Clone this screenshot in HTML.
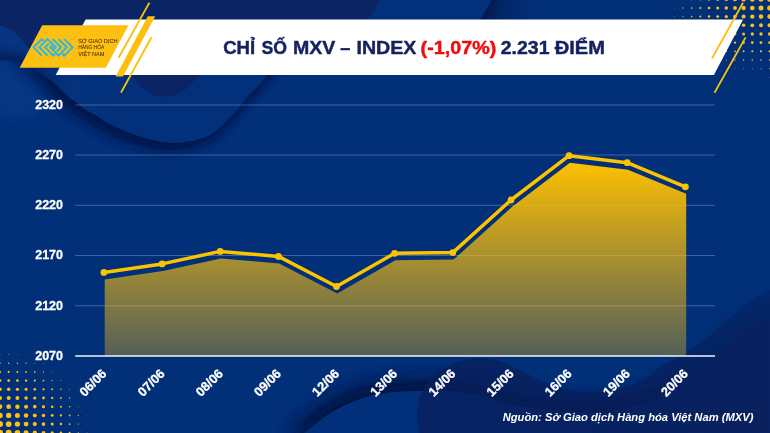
<!DOCTYPE html>
<html lang="vi"><head><meta charset="utf-8"><title>Chỉ số MXV-Index</title>
<style>
html,body{margin:0;padding:0;background:#012f78;}
body{width:770px;height:433px;overflow:hidden;}
svg{display:block;font-family:"Liberation Sans",sans-serif;}
</style></head><body>
<svg width="770" height="433" viewBox="0 0 770 433">
<defs>
<linearGradient id="ag" x1="0" y1="163" x2="0" y2="356" gradientUnits="userSpaceOnUse">
<stop offset="0" stop-color="#fcc000" stop-opacity="1"/>
<stop offset="1" stop-color="#f5bd18" stop-opacity="0.34"/>
</linearGradient>
<filter id="b6" filterUnits="userSpaceOnUse" x="-60" y="-60" width="890" height="553"><feGaussianBlur stdDeviation="7"/></filter>
<filter id="b5" filterUnits="userSpaceOnUse" x="-60" y="-60" width="890" height="553"><feGaussianBlur stdDeviation="5.5"/></filter>
<filter id="b9" filterUnits="userSpaceOnUse" x="-60" y="-60" width="890" height="553"><feGaussianBlur stdDeviation="8"/></filter>
<filter id="b10" filterUnits="userSpaceOnUse" x="-60" y="-60" width="890" height="553"><feGaussianBlur stdDeviation="10"/></filter>
<filter id="b3" filterUnits="userSpaceOnUse" x="-60" y="-60" width="890" height="553"><feGaussianBlur stdDeviation="4"/></filter>
<clipPath id="page"><rect width="770" height="433"/></clipPath>
</defs>
<rect width="770" height="433" fill="#012f78"/>
<g clip-path="url(#page)">
<ellipse cx="-10" cy="88" rx="55" ry="28" fill="#0a3d90" opacity="0.5" filter="url(#b6)" transform="rotate(28 0 92)"/>
<linearGradient id="mg1" x1="8" y1="0" x2="55" y2="0" gradientUnits="userSpaceOnUse"><stop offset="0" stop-color="#fff" stop-opacity="0"/><stop offset="1" stop-color="#fff" stop-opacity="1"/></linearGradient>
<mask id="m1" maskUnits="userSpaceOnUse" x="-20" y="-20" width="810" height="470"><rect x="-20" y="-20" width="810" height="470" fill="url(#mg1)"/></mask>
<linearGradient id="mg2" x1="25" y1="0" x2="70" y2="0" gradientUnits="userSpaceOnUse"><stop offset="0" stop-color="#fff" stop-opacity="1"/><stop offset="1" stop-color="#fff" stop-opacity="0"/></linearGradient>
<mask id="m2" maskUnits="userSpaceOnUse" x="-20" y="-20" width="810" height="470"><rect x="-20" y="-20" width="810" height="470" fill="url(#mg2)"/></mask>
<linearGradient id="og" x1="0" y1="0" x2="120" y2="0" gradientUnits="userSpaceOnUse"><stop offset="0" stop-color="#073581"/><stop offset="1" stop-color="#02307a"/></linearGradient>
<clipPath id="oc"><path d="M-10.0,58.5 C-8.3,58.8 -3.8,59.5 0.0,60.0 C3.8,60.5 9.0,60.9 12.5,61.5 C16.0,62.1 18.1,62.6 21.0,63.5 C23.9,64.4 26.6,65.2 30.0,67.0 C33.4,68.8 38.2,71.8 41.5,74.0 C44.8,76.2 47.2,77.9 50.0,80.0 C52.8,82.1 55.2,83.9 58.0,86.5 C60.8,89.1 63.6,92.6 67.0,95.5 C70.4,98.4 75.5,101.7 78.5,104.0 C81.5,106.3 81.9,107.5 85.0,109.5 C88.1,111.5 93.8,114.1 97.0,116.0 C100.2,117.9 100.9,119.2 104.0,121.0 C107.1,122.8 110.4,124.8 115.4,127.0 C120.4,129.2 127.9,132.3 134.0,134.5 C140.1,136.7 145.8,138.6 152.0,140.0 C158.2,141.4 164.8,142.7 171.0,143.0 C177.2,143.3 184.2,142.3 189.0,141.6 C193.8,140.9 195.7,140.4 200.0,138.8 C204.3,137.2 209.2,136.5 215.0,132.0 C220.8,127.5 229.5,118.0 235.0,112.0 C240.5,106.0 243.7,100.8 248.0,96.0 C252.3,91.2 256.5,88.0 261.0,83.0 C265.5,78.0 268.5,71.5 275.0,66.0 C281.5,60.5 279.2,54.3 300.0,50.0 C320.8,45.7 373.3,43.0 400.0,40.0 C426.7,37.0 446.8,35.3 460.0,32.0 C473.2,28.7 473.7,25.3 479.0,20.0 C484.3,14.7 489.2,5.0 492.0,0.0 C494.8,-5.0 495.3,-8.3 496.0,-10.0 L-10,-10 Z"/></clipPath>
<g mask="url(#m1)"><path d="M-10.0,58.5 C-8.3,58.8 -3.8,59.5 0.0,60.0 C3.8,60.5 9.0,60.9 12.5,61.5 C16.0,62.1 18.1,62.6 21.0,63.5 C23.9,64.4 26.6,65.2 30.0,67.0 C33.4,68.8 38.2,71.8 41.5,74.0 C44.8,76.2 47.2,77.9 50.0,80.0 C52.8,82.1 55.2,83.9 58.0,86.5 C60.8,89.1 63.6,92.6 67.0,95.5 C70.4,98.4 75.5,101.7 78.5,104.0 C81.5,106.3 81.9,107.5 85.0,109.5 C88.1,111.5 93.8,114.1 97.0,116.0 C100.2,117.9 100.9,119.2 104.0,121.0 C107.1,122.8 110.4,124.8 115.4,127.0 C120.4,129.2 127.9,132.3 134.0,134.5 C140.1,136.7 145.8,138.6 152.0,140.0 C158.2,141.4 164.8,142.7 171.0,143.0 C177.2,143.3 184.2,142.3 189.0,141.6 C193.8,140.9 195.7,140.4 200.0,138.8 C204.3,137.2 209.2,136.5 215.0,132.0 C220.8,127.5 229.5,118.0 235.0,112.0 C240.5,106.0 243.7,100.8 248.0,96.0 C252.3,91.2 256.5,88.0 261.0,83.0 C265.5,78.0 268.5,71.5 275.0,66.0 C281.5,60.5 279.2,54.3 300.0,50.0 C320.8,45.7 373.3,43.0 400.0,40.0 C426.7,37.0 446.8,35.3 460.0,32.0 C473.2,28.7 473.7,25.3 479.0,20.0 C484.3,14.7 489.2,5.0 492.0,0.0 C494.8,-5.0 495.3,-8.3 496.0,-10.0 L-10,-10 Z" fill="#03184a" opacity="0.9" filter="url(#b5)" transform="translate(-7,8)"/></g>
<g mask="url(#m1)"><path d="M-10.0,58.5 C-8.3,58.8 -3.8,59.5 0.0,60.0 C3.8,60.5 9.0,60.9 12.5,61.5 C16.0,62.1 18.1,62.6 21.0,63.5 C23.9,64.4 26.6,65.2 30.0,67.0 C33.4,68.8 38.2,71.8 41.5,74.0 C44.8,76.2 47.2,77.9 50.0,80.0 C52.8,82.1 55.2,83.9 58.0,86.5 C60.8,89.1 63.6,92.6 67.0,95.5 C70.4,98.4 75.5,101.7 78.5,104.0 C81.5,106.3 81.9,107.5 85.0,109.5 C88.1,111.5 93.8,114.1 97.0,116.0 C100.2,117.9 100.9,119.2 104.0,121.0 C107.1,122.8 110.4,124.8 115.4,127.0 C120.4,129.2 127.9,132.3 134.0,134.5 C140.1,136.7 145.8,138.6 152.0,140.0 C158.2,141.4 164.8,142.7 171.0,143.0 C177.2,143.3 184.2,142.3 189.0,141.6 C193.8,140.9 195.7,140.4 200.0,138.8 C204.3,137.2 209.2,136.5 215.0,132.0 C220.8,127.5 229.5,118.0 235.0,112.0 C240.5,106.0 243.7,100.8 248.0,96.0 C252.3,91.2 256.5,88.0 261.0,83.0 C265.5,78.0 268.5,71.5 275.0,66.0 C281.5,60.5 279.2,54.3 300.0,50.0 C320.8,45.7 373.3,43.0 400.0,40.0 C426.7,37.0 446.8,35.3 460.0,32.0 C473.2,28.7 473.7,25.3 479.0,20.0 C484.3,14.7 489.2,5.0 492.0,0.0 C494.8,-5.0 495.3,-8.3 496.0,-10.0 L-10,-10 Z" fill="#03184a" opacity="0.7" filter="url(#b3)" transform="translate(3,2)"/></g>
<path d="M-10.0,58.5 C-8.3,58.8 -3.8,59.5 0.0,60.0 C3.8,60.5 9.0,60.9 12.5,61.5 C16.0,62.1 18.1,62.6 21.0,63.5 C23.9,64.4 26.6,65.2 30.0,67.0 C33.4,68.8 38.2,71.8 41.5,74.0 C44.8,76.2 47.2,77.9 50.0,80.0 C52.8,82.1 55.2,83.9 58.0,86.5 C60.8,89.1 63.6,92.6 67.0,95.5 C70.4,98.4 75.5,101.7 78.5,104.0 C81.5,106.3 81.9,107.5 85.0,109.5 C88.1,111.5 93.8,114.1 97.0,116.0 C100.2,117.9 100.9,119.2 104.0,121.0 C107.1,122.8 110.4,124.8 115.4,127.0 C120.4,129.2 127.9,132.3 134.0,134.5 C140.1,136.7 145.8,138.6 152.0,140.0 C158.2,141.4 164.8,142.7 171.0,143.0 C177.2,143.3 184.2,142.3 189.0,141.6 C193.8,140.9 195.7,140.4 200.0,138.8 C204.3,137.2 209.2,136.5 215.0,132.0 C220.8,127.5 229.5,118.0 235.0,112.0 C240.5,106.0 243.7,100.8 248.0,96.0 C252.3,91.2 256.5,88.0 261.0,83.0 C265.5,78.0 268.5,71.5 275.0,66.0 C281.5,60.5 279.2,54.3 300.0,50.0 C320.8,45.7 373.3,43.0 400.0,40.0 C426.7,37.0 446.8,35.3 460.0,32.0 C473.2,28.7 473.7,25.3 479.0,20.0 C484.3,14.7 489.2,5.0 492.0,0.0 C494.8,-5.0 495.3,-8.3 496.0,-10.0 L-10,-10 Z" fill="url(#og)"/>
<g clip-path="url(#oc)"><g mask="url(#m2)"><path d="M-10.0,58.5 C-8.3,58.8 -3.8,59.5 0.0,60.0 C3.8,60.5 9.0,60.9 12.5,61.5 C16.0,62.1 18.1,62.6 21.0,63.5 C23.9,64.4 26.6,65.2 30.0,67.0 C33.4,68.8 38.2,71.8 41.5,74.0 C44.8,76.2 47.2,77.9 50.0,80.0 C52.8,82.1 55.2,83.9 58.0,86.5 C60.8,89.1 63.6,92.6 67.0,95.5 C70.4,98.4 75.5,101.7 78.5,104.0 C81.5,106.3 81.9,107.5 85.0,109.5 C88.1,111.5 95.0,114.9 97.0,116.0" fill="none" stroke="#041c50" stroke-width="16" opacity="0.8" filter="url(#b3)"/></g></g>
<linearGradient id="tg" x1="486" y1="0" x2="535" y2="0" gradientUnits="userSpaceOnUse"><stop offset="0" stop-color="#03184a" stop-opacity="0.6"/><stop offset="1" stop-color="#03184a" stop-opacity="0"/></linearGradient>
<polygon points="492,-1 545,-1 532,21 479,21" fill="url(#tg)"/>
<path d="M-10.0,22.0 C-8.3,22.6 -3.8,24.1 0.0,25.5 C3.8,26.9 8.7,27.8 12.5,30.4 C16.3,33.0 19.9,37.7 23.0,41.0 C26.1,44.3 27.3,46.8 31.0,50.0 C34.7,53.2 38.5,57.0 45.0,60.0 C51.5,63.0 60.8,67.0 70.0,68.0 C79.2,69.0 90.8,65.7 100.0,66.0 C109.2,66.3 119.5,68.3 125.0,70.0 C130.5,71.7 130.2,73.0 133.0,76.0 C135.8,79.0 138.8,85.0 142.0,88.0 C145.2,91.0 148.7,92.6 152.0,94.0 C155.3,95.4 158.2,96.3 162.0,96.5 C165.8,96.7 171.0,96.2 175.0,95.0 C179.0,93.8 182.8,91.3 186.0,89.0 C189.2,86.7 191.8,83.2 194.0,81.0 C196.2,78.8 195.5,80.3 199.0,76.0 C202.5,71.7 198.2,61.8 215.0,55.0 C231.8,48.2 277.5,39.2 300.0,35.0 C322.5,30.8 338.8,32.5 350.0,30.0 C361.2,27.5 362.0,25.0 367.0,20.0 C372.0,15.0 377.2,5.0 380.0,0.0 C382.8,-5.0 383.3,-8.3 384.0,-10.0 L-10,-10 Z" fill="#0a2464"/>
<linearGradient id="a1g" x1="585" y1="0" x2="720" y2="0" gradientUnits="userSpaceOnUse"><stop offset="0" stop-color="#022f7a"/><stop offset="1" stop-color="#0a2464"/></linearGradient>
<linearGradient id="mg3" x1="610" y1="0" x2="720" y2="0" gradientUnits="userSpaceOnUse"><stop offset="0" stop-color="#fff" stop-opacity="1"/><stop offset="1" stop-color="#fff" stop-opacity="0.2"/></linearGradient>
<mask id="m3" maskUnits="userSpaceOnUse" x="-20" y="-20" width="810" height="470"><rect x="-20" y="-20" width="810" height="470" fill="url(#mg3)"/></mask>
<g mask="url(#m3)"><path d="M296.0,440.0 C297.4,438.8 299.5,437.0 304.5,433.0 C309.5,429.0 319.3,420.6 326.0,416.0 C332.7,411.4 338.3,408.5 344.5,405.5 C350.7,402.5 356.9,400.0 363.0,398.0 C369.1,396.0 375.0,394.6 381.0,393.6 C387.0,392.6 393.0,392.2 399.0,391.8 C405.0,391.4 410.5,391.2 417.0,391.0 C423.5,390.8 431.2,390.2 438.0,390.3 C444.8,390.4 451.1,390.7 457.5,391.5 C463.9,392.3 470.3,393.6 476.7,395.0 C483.1,396.4 488.8,398.2 496.0,400.0 C503.2,401.8 512.7,404.5 520.0,406.0 C527.3,407.5 532.5,408.2 540.0,409.0 C547.5,409.8 555.7,410.6 565.0,411.0 C574.3,411.4 585.7,412.0 596.0,411.5 C606.3,411.0 616.7,410.2 627.0,408.0 C637.3,405.8 649.2,401.8 658.0,398.0 C666.8,394.2 673.8,388.8 680.0,385.0 C686.2,381.2 689.3,379.9 695.0,375.5 C700.7,371.1 707.7,364.6 714.0,358.6 C720.3,352.6 726.7,345.1 733.0,339.7 C739.3,334.3 745.8,329.9 752.0,326.5 C758.2,323.1 763.7,321.4 770.0,319.0 C776.3,316.6 786.7,313.2 790.0,312.0 L790,445 L296,445 Z" fill="#021545" opacity="0.95" filter="url(#b9)" transform="translate(-5,-12)"/>
<path d="M296.0,440.0 C297.4,438.8 299.5,437.0 304.5,433.0 C309.5,429.0 319.3,420.6 326.0,416.0 C332.7,411.4 338.3,408.5 344.5,405.5 C350.7,402.5 356.9,400.0 363.0,398.0 C369.1,396.0 375.0,394.6 381.0,393.6 C387.0,392.6 393.0,392.2 399.0,391.8 C405.0,391.4 410.5,391.2 417.0,391.0 C423.5,390.8 431.2,390.2 438.0,390.3 C444.8,390.4 451.1,390.7 457.5,391.5 C463.9,392.3 470.3,393.6 476.7,395.0 C483.1,396.4 488.8,398.2 496.0,400.0 C503.2,401.8 512.7,404.5 520.0,406.0 C527.3,407.5 532.5,408.2 540.0,409.0 C547.5,409.8 555.7,410.6 565.0,411.0 C574.3,411.4 585.7,412.0 596.0,411.5 C606.3,411.0 616.7,410.2 627.0,408.0 C637.3,405.8 649.2,401.8 658.0,398.0 C666.8,394.2 673.8,388.8 680.0,385.0 C686.2,381.2 689.3,379.9 695.0,375.5 C700.7,371.1 707.7,364.6 714.0,358.6 C720.3,352.6 726.7,345.1 733.0,339.7 C739.3,334.3 745.8,329.9 752.0,326.5 C758.2,323.1 763.7,321.4 770.0,319.0 C776.3,316.6 786.7,313.2 790.0,312.0 L790,445 L296,445 Z" fill="#021545" opacity="0.7" filter="url(#b3)" transform="translate(-1.5,-3)"/></g>
<path d="M296.0,440.0 C297.4,438.8 299.5,437.0 304.5,433.0 C309.5,429.0 319.3,420.6 326.0,416.0 C332.7,411.4 338.3,408.5 344.5,405.5 C350.7,402.5 356.9,400.0 363.0,398.0 C369.1,396.0 375.0,394.6 381.0,393.6 C387.0,392.6 393.0,392.2 399.0,391.8 C405.0,391.4 410.5,391.2 417.0,391.0 C423.5,390.8 431.2,390.2 438.0,390.3 C444.8,390.4 451.1,390.7 457.5,391.5 C463.9,392.3 470.3,393.6 476.7,395.0 C483.1,396.4 488.8,398.2 496.0,400.0 C503.2,401.8 512.7,404.5 520.0,406.0 C527.3,407.5 532.5,408.2 540.0,409.0 C547.5,409.8 555.7,410.6 565.0,411.0 C574.3,411.4 585.7,412.0 596.0,411.5 C606.3,411.0 616.7,410.2 627.0,408.0 C637.3,405.8 649.2,401.8 658.0,398.0 C666.8,394.2 673.8,388.8 680.0,385.0 C686.2,381.2 689.3,379.9 695.0,375.5 C700.7,371.1 707.7,364.6 714.0,358.6 C720.3,352.6 726.7,345.1 733.0,339.7 C739.3,334.3 745.8,329.9 752.0,326.5 C758.2,323.1 763.7,321.4 770.0,319.0 C776.3,316.6 786.7,313.2 790.0,312.0 L790,445 L296,445 Z" fill="url(#a1g)"/>
<linearGradient id="b2g" x1="620" y1="0" x2="770" y2="0" gradientUnits="userSpaceOnUse"><stop offset="0" stop-color="#081e5a" stop-opacity="0.74"/><stop offset="1" stop-color="#081e5a" stop-opacity="0.45"/></linearGradient>
<path d="M419.0,445.0 C419.0,443.0 419.3,438.0 419.0,433.0 C418.7,428.0 417.0,420.5 417.0,415.0 C417.0,409.5 417.7,404.8 419.0,400.0 C420.3,395.2 422.4,390.2 425.0,386.0 C427.6,381.8 430.7,378.3 434.5,375.0 C438.3,371.7 443.2,368.4 448.0,366.0 C452.8,363.6 457.6,361.7 463.0,360.5 C468.4,359.3 475.0,358.6 480.5,358.6 C486.0,358.6 490.9,359.3 496.0,360.5 C501.1,361.7 507.0,364.4 511.0,366.0 C515.0,367.6 513.7,367.0 520.0,370.0 C526.3,373.0 539.0,380.4 549.0,384.0 C559.0,387.6 569.7,390.3 580.0,391.5 C590.3,392.7 600.5,392.9 611.0,391.0 C621.5,389.1 634.8,384.0 643.0,380.0 C651.2,376.0 654.2,370.8 660.0,367.0 C665.8,363.2 672.2,360.3 678.0,357.0 C683.8,353.7 689.0,351.2 695.0,347.0 C701.0,342.8 707.7,337.3 714.0,332.0 C720.3,326.7 726.7,320.3 733.0,315.0 C739.3,309.7 745.8,304.1 752.0,300.0 C758.2,295.9 763.7,293.9 770.0,290.7 C776.3,287.5 786.7,282.6 790.0,281.0 L790,445 Z" fill="url(#b2g)"/>
</g>
<!-- halftone dots -->
<g fill="#fdc010"><circle cx="665.7" cy="-0.7" r="0.22"/><circle cx="674.4" cy="-0.7" r="0.45"/><circle cx="683.0" cy="-0.7" r="0.67"/><circle cx="691.7" cy="-0.7" r="0.89"/><circle cx="700.3" cy="-0.7" r="1.11"/><circle cx="709.0" cy="-0.7" r="1.33"/><circle cx="717.7" cy="-0.7" r="1.56"/><circle cx="726.3" cy="-0.7" r="1.78"/><circle cx="735.0" cy="-0.7" r="2.00"/><circle cx="743.6" cy="-0.7" r="2.22"/><circle cx="752.3" cy="-0.7" r="2.45"/><circle cx="761.0" cy="-0.7" r="2.50"/><circle cx="769.6" cy="-0.7" r="2.50"/><circle cx="665.7" cy="8.0" r="0.21"/><circle cx="674.4" cy="8.0" r="0.43"/><circle cx="683.0" cy="8.0" r="0.65"/><circle cx="691.7" cy="8.0" r="0.87"/><circle cx="700.3" cy="8.0" r="1.09"/><circle cx="709.0" cy="8.0" r="1.31"/><circle cx="717.7" cy="8.0" r="1.53"/><circle cx="726.3" cy="8.0" r="1.75"/><circle cx="735.0" cy="8.0" r="1.96"/><circle cx="743.6" cy="8.0" r="2.17"/><circle cx="752.3" cy="8.0" r="2.37"/><circle cx="761.0" cy="8.0" r="2.50"/><circle cx="769.6" cy="8.0" r="2.50"/><circle cx="665.7" cy="16.6" r="0.16"/><circle cx="674.4" cy="16.6" r="0.38"/><circle cx="683.0" cy="16.6" r="0.60"/><circle cx="691.7" cy="16.6" r="0.81"/><circle cx="700.3" cy="16.6" r="1.02"/><circle cx="709.0" cy="16.6" r="1.23"/><circle cx="717.7" cy="16.6" r="1.44"/><circle cx="726.3" cy="16.6" r="1.64"/><circle cx="735.0" cy="16.6" r="1.83"/><circle cx="743.6" cy="16.6" r="2.01"/><circle cx="752.3" cy="16.6" r="2.17"/><circle cx="761.0" cy="16.6" r="2.28"/><circle cx="769.6" cy="16.6" r="2.33"/><circle cx="674.4" cy="25.3" r="0.29"/><circle cx="683.0" cy="25.3" r="0.50"/><circle cx="691.7" cy="25.3" r="0.71"/><circle cx="700.3" cy="25.3" r="0.91"/><circle cx="709.0" cy="25.3" r="1.11"/><circle cx="717.7" cy="25.3" r="1.30"/><circle cx="726.3" cy="25.3" r="1.48"/><circle cx="735.0" cy="25.3" r="1.65"/><circle cx="743.6" cy="25.3" r="1.79"/><circle cx="752.3" cy="25.3" r="1.92"/><circle cx="761.0" cy="25.3" r="2.00"/><circle cx="769.6" cy="25.3" r="2.03"/><circle cx="674.4" cy="34.0" r="0.18"/><circle cx="683.0" cy="34.0" r="0.38"/><circle cx="691.7" cy="34.0" r="0.57"/><circle cx="700.3" cy="34.0" r="0.76"/><circle cx="709.0" cy="34.0" r="0.94"/><circle cx="717.7" cy="34.0" r="1.12"/><circle cx="726.3" cy="34.0" r="1.28"/><circle cx="735.0" cy="34.0" r="1.42"/><circle cx="743.6" cy="34.0" r="1.55"/><circle cx="752.3" cy="34.0" r="1.64"/><circle cx="761.0" cy="34.0" r="1.70"/><circle cx="769.6" cy="34.0" r="1.73"/><circle cx="683.0" cy="42.6" r="0.23"/><circle cx="691.7" cy="42.6" r="0.41"/><circle cx="700.3" cy="42.6" r="0.58"/><circle cx="709.0" cy="42.6" r="0.75"/><circle cx="717.7" cy="42.6" r="0.91"/><circle cx="726.3" cy="42.6" r="1.05"/><circle cx="735.0" cy="42.6" r="1.17"/><circle cx="743.6" cy="42.6" r="1.28"/><circle cx="752.3" cy="42.6" r="1.36"/><circle cx="761.0" cy="42.6" r="1.41"/><circle cx="769.6" cy="42.6" r="1.43"/><circle cx="691.7" cy="51.3" r="0.22"/><circle cx="700.3" cy="51.3" r="0.38"/><circle cx="709.0" cy="51.3" r="0.54"/><circle cx="717.7" cy="51.3" r="0.68"/><circle cx="726.3" cy="51.3" r="0.80"/><circle cx="735.0" cy="51.3" r="0.91"/><circle cx="743.6" cy="51.3" r="1.00"/><circle cx="752.3" cy="51.3" r="1.07"/><circle cx="761.0" cy="51.3" r="1.11"/><circle cx="769.6" cy="51.3" r="1.13"/><circle cx="700.3" cy="60.0" r="0.16"/><circle cx="709.0" cy="60.0" r="0.30"/><circle cx="717.7" cy="60.0" r="0.43"/><circle cx="726.3" cy="60.0" r="0.55"/><circle cx="735.0" cy="60.0" r="0.64"/><circle cx="743.6" cy="60.0" r="0.72"/><circle cx="752.3" cy="60.0" r="0.78"/><circle cx="761.0" cy="60.0" r="0.82"/><circle cx="769.6" cy="60.0" r="0.83"/><circle cx="717.7" cy="68.7" r="0.18"/><circle cx="726.3" cy="68.7" r="0.28"/><circle cx="735.0" cy="68.7" r="0.36"/><circle cx="743.6" cy="68.7" r="0.43"/><circle cx="752.3" cy="68.7" r="0.49"/><circle cx="761.0" cy="68.7" r="0.52"/><circle cx="769.6" cy="68.7" r="0.53"/><circle cx="743.6" cy="77.3" r="0.15"/><circle cx="752.3" cy="77.3" r="0.19"/><circle cx="761.0" cy="77.3" r="0.22"/><circle cx="769.6" cy="77.3" r="0.23"/></g>
<g fill="#fdc010"><circle cx="0.0" cy="354.5" r="0.43"/><circle cx="8.7" cy="354.5" r="0.42"/><circle cx="17.4" cy="354.5" r="0.37"/><circle cx="26.1" cy="354.5" r="0.30"/><circle cx="34.8" cy="354.5" r="0.19"/><circle cx="0.0" cy="363.2" r="0.76"/><circle cx="8.7" cy="363.2" r="0.75"/><circle cx="17.4" cy="363.2" r="0.69"/><circle cx="26.1" cy="363.2" r="0.61"/><circle cx="34.8" cy="363.2" r="0.49"/><circle cx="43.5" cy="363.2" r="0.35"/><circle cx="52.2" cy="363.2" r="0.19"/><circle cx="0.0" cy="371.9" r="1.09"/><circle cx="8.7" cy="371.9" r="1.07"/><circle cx="17.4" cy="371.9" r="1.01"/><circle cx="26.1" cy="371.9" r="0.92"/><circle cx="34.8" cy="371.9" r="0.79"/><circle cx="43.5" cy="371.9" r="0.63"/><circle cx="52.2" cy="371.9" r="0.45"/><circle cx="60.9" cy="371.9" r="0.26"/><circle cx="0.0" cy="380.6" r="1.42"/><circle cx="8.7" cy="380.6" r="1.40"/><circle cx="17.4" cy="380.6" r="1.33"/><circle cx="26.1" cy="380.6" r="1.22"/><circle cx="34.8" cy="380.6" r="1.07"/><circle cx="43.5" cy="380.6" r="0.90"/><circle cx="52.2" cy="380.6" r="0.70"/><circle cx="60.9" cy="380.6" r="0.49"/><circle cx="69.6" cy="380.6" r="0.26"/><circle cx="0.0" cy="389.3" r="1.75"/><circle cx="8.7" cy="389.3" r="1.72"/><circle cx="17.4" cy="389.3" r="1.64"/><circle cx="26.1" cy="389.3" r="1.51"/><circle cx="34.8" cy="389.3" r="1.35"/><circle cx="43.5" cy="389.3" r="1.15"/><circle cx="52.2" cy="389.3" r="0.94"/><circle cx="60.9" cy="389.3" r="0.70"/><circle cx="69.6" cy="389.3" r="0.45"/><circle cx="78.3" cy="389.3" r="0.20"/><circle cx="0.0" cy="398.0" r="2.08"/><circle cx="8.7" cy="398.0" r="2.04"/><circle cx="17.4" cy="398.0" r="1.94"/><circle cx="26.1" cy="398.0" r="1.79"/><circle cx="34.8" cy="398.0" r="1.60"/><circle cx="43.5" cy="398.0" r="1.38"/><circle cx="52.2" cy="398.0" r="1.14"/><circle cx="60.9" cy="398.0" r="0.89"/><circle cx="69.6" cy="398.0" r="0.63"/><circle cx="78.3" cy="398.0" r="0.35"/><circle cx="0.0" cy="406.7" r="2.41"/><circle cx="8.7" cy="406.7" r="2.36"/><circle cx="17.4" cy="406.7" r="2.23"/><circle cx="26.1" cy="406.7" r="2.05"/><circle cx="34.8" cy="406.7" r="1.83"/><circle cx="43.5" cy="406.7" r="1.58"/><circle cx="52.2" cy="406.7" r="1.32"/><circle cx="60.9" cy="406.7" r="1.05"/><circle cx="69.6" cy="406.7" r="0.77"/><circle cx="78.3" cy="406.7" r="0.48"/><circle cx="87.0" cy="406.7" r="0.19"/><circle cx="0.0" cy="415.4" r="2.74"/><circle cx="8.7" cy="415.4" r="2.67"/><circle cx="17.4" cy="415.4" r="2.50"/><circle cx="26.1" cy="415.4" r="2.27"/><circle cx="34.8" cy="415.4" r="2.01"/><circle cx="43.5" cy="415.4" r="1.74"/><circle cx="52.2" cy="415.4" r="1.45"/><circle cx="60.9" cy="415.4" r="1.16"/><circle cx="69.6" cy="415.4" r="0.87"/><circle cx="78.3" cy="415.4" r="0.58"/><circle cx="87.0" cy="415.4" r="0.28"/><circle cx="0.0" cy="424.1" r="3.00"/><circle cx="8.7" cy="424.1" r="2.95"/><circle cx="17.4" cy="424.1" r="2.70"/><circle cx="26.1" cy="424.1" r="2.43"/><circle cx="34.8" cy="424.1" r="2.13"/><circle cx="43.5" cy="424.1" r="1.84"/><circle cx="52.2" cy="424.1" r="1.54"/><circle cx="60.9" cy="424.1" r="1.24"/><circle cx="69.6" cy="424.1" r="0.94"/><circle cx="78.3" cy="424.1" r="0.63"/><circle cx="87.0" cy="424.1" r="0.33"/><circle cx="0.0" cy="432.8" r="3.00"/><circle cx="8.7" cy="432.8" r="3.00"/><circle cx="17.4" cy="432.8" r="2.79"/><circle cx="26.1" cy="432.8" r="2.49"/><circle cx="34.8" cy="432.8" r="2.18"/><circle cx="43.5" cy="432.8" r="1.88"/><circle cx="52.2" cy="432.8" r="1.57"/><circle cx="60.9" cy="432.8" r="1.27"/><circle cx="69.6" cy="432.8" r="0.96"/><circle cx="78.3" cy="432.8" r="0.66"/><circle cx="87.0" cy="432.8" r="0.35"/></g>
<!-- header -->
<polygon points="85.6,19.5 743.1,19.5 713.9,75.1 55.7,75.1" fill="#ffffff"/>
<polygon points="42.2,25.2 128.5,25.2 105.8,67.7 19.7,67.7" fill="#fdc010"/>
<g stroke="#fdc010" stroke-linecap="butt">
<line x1="149.4" y1="2.6" x2="118.6" y2="57.8" stroke-width="1.9"/>
<line x1="151.5" y1="37.2" x2="121" y2="92.6" stroke-width="1.9"/>
<line x1="743" y1="2.8" x2="712" y2="58.5" stroke-width="1.8"/>
<line x1="745.6" y1="37.4" x2="714.5" y2="92.8" stroke-width="1.8"/>
</g>
<polygon points="147.8,16.2 155.2,16.2 123,76.4 115.6,76.4" fill="#fdc010"/>
<!-- logo -->
<g id="logo" fill="none" stroke="#22b8f0" stroke-width="1.95" stroke-linejoin="miter" stroke-linecap="butt">
<polyline points="43.68,40.91 41.85,39.08 33.61,47.32 41.85,55.57"/>
<polyline points="47.59,55.57 39.35,47.32 47.59,39.08 55.84,47.32 53.07,50.09 50.30,47.32 52.32,45.30"/>
<polyline points="48.95,43.47 45.09,47.32 53.34,55.57 55.16,53.74"/>
<polyline points="52.80,39.08 61.04,47.32 56.72,51.65"/>
<polyline points="58.54,39.08 66.78,47.32 58.54,55.57 54.08,51.11"/>
<polyline points="64.28,39.08 72.53,47.32 64.28,55.57 62.46,53.74"/>
<circle cx="53.07" cy="47.32" r="0.9" fill="#22b8f0" stroke="none"/>
</g>
<text x="70.6" y="40.6" font-size="2.4" fill="#3aa8d8" font-weight="700">™</text>
<g font-size="5.3" fill="#4a2c0a" font-weight="400" stroke="#4a2c0a" stroke-width="0.06">
<text x="78.2" y="43.1" textLength="39.3" lengthAdjust="spacingAndGlyphs">SỞ GIAO DỊCH</text>
<text x="78.2" y="49.4" textLength="26" lengthAdjust="spacingAndGlyphs">HÀNG HÓA</text>
<text x="78.2" y="55.7" textLength="26.3" lengthAdjust="spacingAndGlyphs">VIỆT NAM</text>
</g>
<!-- title -->
<g font-size="18.4" font-weight="700" fill="#14235f" stroke="#14235f" stroke-width="0.45" stroke-linejoin="round">
<text x="223.2" y="53.7" textLength="32.0" lengthAdjust="spacingAndGlyphs">CHỈ</text>
<text x="261.4" y="53.7" textLength="25.5" lengthAdjust="spacingAndGlyphs">SỐ</text>
<text x="293.0" y="53.7" textLength="42.4" lengthAdjust="spacingAndGlyphs">MXV</text>
<text x="340.3" y="53.7" textLength="10.1" lengthAdjust="spacingAndGlyphs">–</text>
<text x="356.5" y="53.7" textLength="59.9" lengthAdjust="spacingAndGlyphs">INDEX</text>
<text x="420.6" y="53.7" textLength="75.7" lengthAdjust="spacingAndGlyphs" fill="#f40a0a" stroke="#f40a0a">(-1,07%)</text>
<text x="500.7" y="53.7" textLength="48.8" lengthAdjust="spacingAndGlyphs">2.231</text>
<text x="554.7" y="53.7" textLength="50.2" lengthAdjust="spacingAndGlyphs">ĐIỂM</text>
</g>
<!-- chart -->
<g stroke="#ffffff" stroke-opacity="0.25" stroke-width="1"><line x1="75.2" x2="715" y1="105" y2="105"/><line x1="75.2" x2="715" y1="155" y2="155"/><line x1="75.2" x2="715" y1="205.3" y2="205.3"/><line x1="75.2" x2="715" y1="255.5" y2="255.5"/><line x1="75.2" x2="715" y1="305.8" y2="305.8"/></g>
<polygon points="104.7,356.1 104.7,279.4 162.9,270.9 221.0,258.4 279.2,263.4 337.3,293.5 395.4,260.3 453.6,259.6 511.8,207.0 569.9,162.7 628.0,169.7 686.2,193.8 686.2,356.1" fill="url(#ag)"/>
<line x1="75.2" x2="715" y1="356.1" y2="356.1" stroke="#f2f4f8" stroke-width="1.5"/>
<polyline points="103.9,272.4 162.1,263.9 220.2,251.4 278.4,256.4 336.5,286.5 394.6,253.3 452.8,252.6 511.0,200.0 569.1,155.7 627.2,162.7 685.4,186.8" fill="none" stroke="#fcc400" stroke-width="3.5" stroke-linejoin="round" stroke-linecap="round"/>
<g fill="#fcc400"><circle cx="103.9" cy="272.4" r="3.4"/><circle cx="162.1" cy="263.9" r="3.4"/><circle cx="220.2" cy="251.4" r="3.4"/><circle cx="278.4" cy="256.4" r="3.4"/><circle cx="336.5" cy="286.5" r="3.4"/><circle cx="394.6" cy="253.3" r="3.4"/><circle cx="452.8" cy="252.6" r="3.4"/><circle cx="511.0" cy="200.0" r="3.4"/><circle cx="569.1" cy="155.7" r="3.4"/><circle cx="627.2" cy="162.7" r="3.4"/><circle cx="685.4" cy="186.8" r="3.4"/></g>
<g font-size="12.5" font-weight="700" fill="#ffffff" stroke="#ffffff" stroke-width="0.3" text-anchor="end"><text x="63.0" y="108.8">2320</text><text x="63.0" y="158.8">2270</text><text x="63.0" y="209.1">2220</text><text x="63.0" y="259.3">2170</text><text x="63.0" y="309.6">2120</text><text x="63.0" y="359.9">2070</text></g>
<g font-size="12.8" font-weight="700" fill="#ffffff" stroke="#ffffff" stroke-width="0.3" text-anchor="end"><text transform="translate(107.4,374.5) rotate(-45)">06/06</text><text transform="translate(165.6,374.5) rotate(-45)">07/06</text><text transform="translate(223.7,374.5) rotate(-45)">08/06</text><text transform="translate(281.9,374.5) rotate(-45)">09/06</text><text transform="translate(340.0,374.5) rotate(-45)">12/06</text><text transform="translate(398.1,374.5) rotate(-45)">13/06</text><text transform="translate(456.3,374.5) rotate(-45)">14/06</text><text transform="translate(514.5,374.5) rotate(-45)">15/06</text><text transform="translate(572.6,374.5) rotate(-45)">16/06</text><text transform="translate(630.8,374.5) rotate(-45)">19/06</text><text transform="translate(688.9,374.5) rotate(-45)">20/06</text></g>
<text x="502.7" y="421" font-size="11.2" font-weight="700" font-style="italic" fill="#ffffff" textLength="250.7" lengthAdjust="spacingAndGlyphs">Nguồn: Sở Giao dịch Hàng hóa Việt Nam (MXV)</text>
</svg>
</body></html>
